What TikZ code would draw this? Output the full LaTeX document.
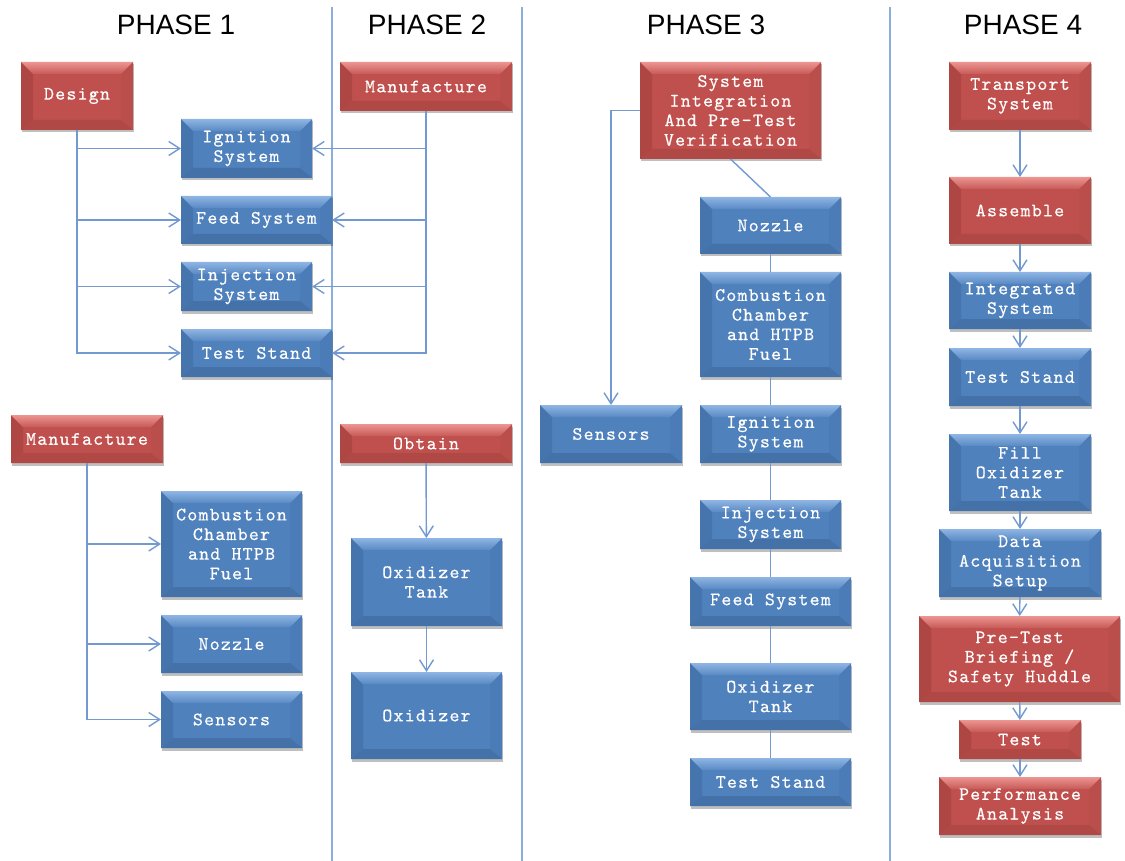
\documentclass[tikz,border=0pt]{standalone}
\usepackage{fontspec}
\setmainfont{Liberation Sans}
\newfontfamily\boxfont[Extension=.otf,LetterSpace=6.4,FakeBold=0.4]{lmmono10-regular}
\usetikzlibrary{arrows.meta,shadows}
\definecolor{redmain}{HTML}{C0504D}
\definecolor{redtop}{HTML}{EC9591}
\definecolor{redleft}{HTML}{AE4744}
\definecolor{redright}{HTML}{B94E4B}
\definecolor{redbot}{HTML}{B04845}
\definecolor{bluemain}{HTML}{4F81BD}
\definecolor{bluetop}{HTML}{8FB5E4}
\definecolor{blueleft}{HTML}{4674AC}
\definecolor{blueright}{HTML}{4B7CB7}
\definecolor{bluebot}{HTML}{4571A9}
\definecolor{lineblue}{HTML}{729AD0}
\definecolor{sepblue}{HTML}{8AAEDD}
\tikzset{
  bevbox/.style={rectangle, inner sep=0pt, outer sep=0pt, fill=#1main, text=white,
    align=center, font=\boxfont\fontsize{19}{19.6}\selectfont,
    drop shadow={shadow xshift=1pt, shadow yshift=-2.5pt, opacity=0.25, fill=black},
    path picture={
      \fill[#1left] (path picture bounding box.north west) -- ([shift={(12pt,-12pt)}]path picture bounding box.north west)
        -- ([shift={(12pt,10pt)}]path picture bounding box.south west)
        -- (path picture bounding box.south west) -- cycle;
      \fill[#1right] (path picture bounding box.north east) -- ([shift={(-12pt,-12pt)}]path picture bounding box.north east)
        -- ([shift={(-12pt,10pt)}]path picture bounding box.south east)
        -- (path picture bounding box.south east) -- cycle;
      \fill[#1bot] (path picture bounding box.south west) -- ([shift={(12pt,10pt)}]path picture bounding box.south west)
        -- ([shift={(-12pt,10pt)}]path picture bounding box.south east)
        -- (path picture bounding box.south east) -- cycle;
      \shade[top color=#1top, bottom color=#1main!85!#1top] (path picture bounding box.north west) -- (path picture bounding box.north east)
        -- ([shift={(-12pt,-12pt)}]path picture bounding box.north east)
        -- ([shift={(12pt,-12pt)}]path picture bounding box.north west) -- cycle;
    }},
  rbox/.style={bevbox=red},
  bbox/.style={bevbox=blue},
  conn/.style={draw=lineblue, line width=1.4pt},
  arr/.style={conn, -{Straight Barb[length=11pt, width=14pt, line width=1.4pt]}},
  sepline/.style={draw=sepblue, line width=1.2pt},
  title/.style={font=\fontsize{28}{30}\selectfont, text=black}
}
\begin{document}
\begin{tikzpicture}[x=1pt,y=-1pt]
\useasboundingbox[fill=white] (0,0) rectangle (1125,861);

% separators
\draw[sepline] (332,7) -- (332,861);
\draw[sepline] (522,7) -- (522,861);
\draw[sepline] (890,7) -- (890,861);

% titles
\node[title] (t1) at (176,25) {PHASE 1};
\node[title] (t2) at (427,25) {PHASE 2};
\node[title] (t3) at (706,25) {PHASE 3};
\node[title] (t4) at (1023,25) {PHASE 4};

% Phase 1
\node[rbox, minimum width=112pt, minimum height=68pt] (design) at (77,96) {Design};
\node[bbox, minimum width=131pt, minimum height=59pt] (ign1) at (246.5,148.5) {Ignition\\System};
\node[bbox, minimum width=151pt, minimum height=48pt] (feed1) at (256.5,220) {Feed System};
\node[bbox, minimum width=131pt, minimum height=49pt] (inj1) at (246.5,286.5) {Injection\\System};
\node[bbox, minimum width=151pt, minimum height=48pt] (ts1) at (256.5,353) {Test Stand};
\node[rbox, minimum width=152pt, minimum height=48pt] (manu1) at (87,439) {Manufacture};
\node[bbox, minimum width=141pt, minimum height=106pt] (comb1) at (231.5,544) {Combustion\\Chamber\\and HTPB\\Fuel};
\node[bbox, minimum width=141pt, minimum height=58pt] (noz1) at (231.5,644) {Nozzle};
\node[bbox, minimum width=141pt, minimum height=57pt] (sens1) at (231.5,719.5) {Sensors};

% Phase 2
\node[rbox, minimum width=172pt, minimum height=49pt] (manu2) at (426,86.5) {Manufacture};
\node[rbox, minimum width=172pt, minimum height=39pt] (obtain) at (426,443.5) {Obtain};
\node[bbox, minimum width=151pt, minimum height=88pt] (oxt2) at (426.5,582) {Oxidizer\\Tank};
\node[bbox, minimum width=151pt, minimum height=87pt] (ox2) at (426.5,715.5) {Oxidizer};

% Phase 3
\node[rbox, minimum width=181pt, minimum height=97pt] (sysint) at (730.5,110.5) {System\\Integration\\And Pre-Test\\Verification};
\node[bbox, minimum width=142pt, minimum height=58pt] (sens3) at (611,434) {Sensors};
\node[bbox, minimum width=141pt, minimum height=57pt] (noz3) at (770.5,225.5) {Nozzle};
\node[bbox, minimum width=141pt, minimum height=105pt] (comb3) at (770.5,324.5) {Combustion\\Chamber\\and HTPB\\Fuel};
\node[bbox, minimum width=141pt, minimum height=58pt] (ign3) at (770.5,434) {Ignition\\System};
\node[bbox, minimum width=141pt, minimum height=49pt] (inj3) at (770.5,524.5) {Injection\\System};
\node[bbox, minimum width=161pt, minimum height=49pt] (feed3) at (770.5,601.5) {Feed System};
\node[bbox, minimum width=161pt, minimum height=67pt] (oxt3) at (770.5,696.5) {Oxidizer\\Tank};
\node[bbox, minimum width=161pt, minimum height=48pt] (ts3) at (770.5,782) {Test Stand};

% Phase 4
\node[rbox, minimum width=142pt, minimum height=68pt] (trans) at (1020,96) {Transport\\System};
\node[rbox, minimum width=142pt, minimum height=67pt] (assem) at (1020,210.5) {Assemble};
\node[bbox, minimum width=142pt, minimum height=57pt] (integ) at (1020,300.5) {Integrated\\System};
\node[bbox, minimum width=142pt, minimum height=58pt] (ts4) at (1020,377) {Test Stand};
\node[bbox, minimum width=142pt, minimum height=77pt] (fill) at (1020,472.5) {Fill\\Oxidizer\\Tank};
\node[bbox, minimum width=162pt, minimum height=68pt] (daq) at (1020,563) {Data\\Acquisition\\Setup};
\node[rbox, minimum width=201pt, minimum height=86pt] (brief) at (1019.5,659) {Pre-Test\\Briefing /\\Safety Huddle};
\node[rbox, minimum width=122pt, minimum height=39pt] (test) at (1020,739.5) {Test};
\node[rbox, minimum width=162pt, minimum height=58pt] (perf) at (1020,806) {Performance\\Analysis};

% Phase 1 connectors
\draw[arr] (design.south) |- (ign1.west);
\draw[arr] (design.south) |- (feed1.west);
\draw[arr] (design.south) |- (inj1.west);
\draw[arr] (design.south) |- (ts1.west);
\draw[arr] (manu1.south) |- (comb1.west);
\draw[arr] (manu1.south) |- (noz1.west);
\draw[arr] (manu1.south) |- (sens1.west);

% Phase 2 connectors
\draw[arr] (manu2.south) |- (ign1.east);
\draw[arr] (manu2.south) |- (feed1.east);
\draw[arr] (manu2.south) |- (inj1.east);
\draw[arr] (manu2.south) |- (ts1.east);
\draw[arr] (obtain) -- (oxt2);
\draw[arr] (oxt2) -- (ox2);

% Phase 3 connectors
\draw[arr] (sysint.west) -| (sens3.north);
\draw[conn] (sysint.south) -- (noz3.north);
\draw[conn] (noz3) -- (comb3);
\draw[conn] (comb3) -- (ign3);
\draw[conn] (ign3) -- (inj3);
\draw[conn] (inj3) -- (feed3);
\draw[conn] (feed3) -- (oxt3);
\draw[conn] (oxt3) -- (ts3);

% Phase 4 connectors
\draw[arr] (trans) -- (assem);
\draw[arr] (assem) -- (integ);
\draw[arr] (integ) -- (ts4);
\draw[arr] (ts4) -- (fill);
\draw[arr] (fill) -- (daq);
\draw[arr] (daq) -- (brief);
\draw[arr] (brief) -- (test);
\draw[arr] (test) -- (perf);
\end{tikzpicture}
\end{document}
